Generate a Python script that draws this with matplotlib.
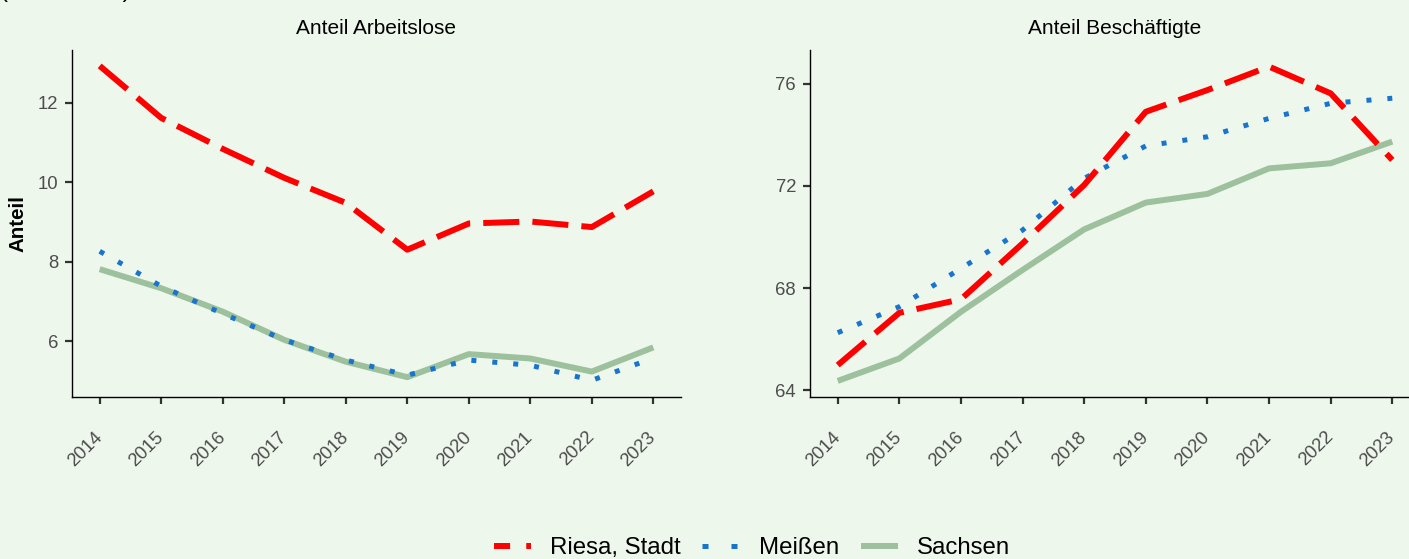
import matplotlib
matplotlib.use("Agg")
import matplotlib.pyplot as plt
from matplotlib.lines import Line2D

plt.rcParams['font.family'] = ['Liberation Sans', 'DejaVu Sans']

years = [2014, 2015, 2016, 2017, 2018, 2019, 2020, 2021, 2022, 2023]
series = ["Riesa, Stadt", "Meißen", "Sachsen"]

# Anteil Arbeitslose
alo_riesa = [12.93, 11.62, 10.84, 10.11, 9.48, 8.30, 8.96, 9.01, 8.87, 9.77]
alo_meissen = [8.26, 7.38, 6.69, 6.03, 5.52, 5.14, 5.52, 5.39, 5.01, 5.57]
alo_sachsen = [7.81, 7.33, 6.74, 6.03, 5.48, 5.09, 5.67, 5.56, 5.23, 5.84]

# Anteil Beschäftigte
besch_riesa = [64.98, 67.03, 67.56, 69.75, 72.04, 74.91, 75.76, 76.68, 75.63, 73.02]
besch_meissen = [66.25, 67.27, 68.77, 70.27, 72.30, 73.57, 73.93, 74.65, 75.24, 75.44]
besch_sachsen = [64.36, 65.24, 67.07, 68.71, 70.30, 71.35, 71.69, 72.69, 72.89, 73.74]

titles = ["Anteil Arbeitslose", "Anteil Beschäftigte"]
yticks_left = [6, 8, 10, 12]
yticks_right = [64, 68, 72, 76]

BG = '#EEF7EC'
RED = '#FF0000'
BLUE = '#1874CD'
GREEN = '#9DC09D'

W, H = 1409, 559
fig = plt.figure(figsize=(W / 100, H / 100), dpi=100, facecolor=BG)

def fx(px):
    return px / W

def fy(py):
    return 1 - py / H

ax1 = fig.add_axes([fx(72), fy(397), fx(681 - 72), (397 - 50) / H])
ax2 = fig.add_axes([fx(810), fy(397), fx(1420 - 810), (397 - 50) / H])

lw_red = 4.3
lw_blue = 3.6
lw_green = 4.3
red_dash = (26 / lw_red, 9.4 / lw_red)
blue_dash = (1.0, 3.2)

def draw(ax, r, m, s, yt, ylim, title):
    ax.set_facecolor(BG)
    ax.plot(years, s, color=GREEN, lw=lw_green, solid_capstyle='butt', zorder=2)
    ax.plot(years, m, color=BLUE, lw=lw_blue, dashes=blue_dash, dash_capstyle='butt', zorder=3)
    ax.plot(years, r, color=RED, lw=lw_red, dashes=red_dash, dash_capstyle='butt', zorder=4)
    ax.set_xlim(2013.55, 2023.45)
    ax.set_ylim(*ylim)
    ax.set_xticks(years)
    ax.set_xticklabels([str(y) for y in years], rotation=45, ha='right', va='center',
                       rotation_mode='anchor')
    ax.set_yticks(yt)
    ax.set_yticklabels([str(v) for v in yt])
    for sp in ['top', 'right']:
        ax.spines[sp].set_visible(False)
    for sp in ['left', 'bottom']:
        ax.spines[sp].set_color('black')
        ax.spines[sp].set_linewidth(1.0)
    ax.tick_params(axis='both', length=5, width=1.6, color='#333333',
                   labelcolor='#4D4D4D', labelsize=13.3)
    ax.tick_params(axis='x', pad=22)
    ax.tick_params(axis='y', pad=5)
    ax.set_title(title, fontsize=15, color='black', pad=11.5)

draw(ax1, alo_riesa, alo_meissen, alo_sachsen, yticks_left, (4.59, 13.33), titles[0])
draw(ax2, besch_riesa, besch_meissen, besch_sachsen, yticks_right, (63.73, 77.33), titles[1])

fig.text(fx(18), fy(224), 'Anteil', rotation=90, ha='center', va='center',
         fontsize=14.8, fontweight='bold', color='black')

fig.text(0.0, fy(-3), '(Anteil in %)', ha='left', va='baseline', fontsize=17.5, color='black')

handles = [
    Line2D([], [], color=RED, lw=lw_red, dashes=(2.7, 2.7), dash_capstyle='butt'),
    Line2D([], [], color=BLUE, lw=lw_blue, dashes=(1.2, 4.6), dash_capstyle='butt'),
    Line2D([], [], color=GREEN, lw=lw_green, solid_capstyle='butt'),
]
fig.legend(handles, series, loc='center', bbox_to_anchor=(fx(752), fy(548)), ncol=3,
           frameon=False, fontsize=17.3, handlelength=1.55, handletextpad=0.8,
           columnspacing=0.9, borderaxespad=0, borderpad=0)

fig.savefig('out.png', dpi=100, facecolor=BG)
